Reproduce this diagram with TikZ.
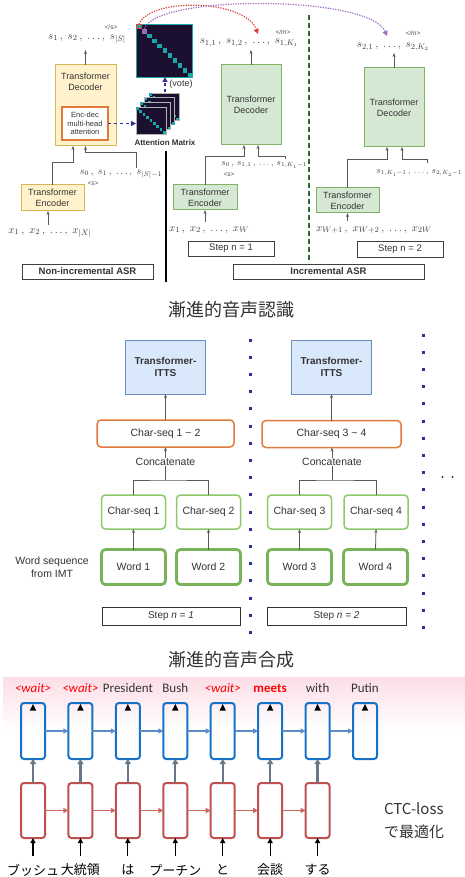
\documentclass[tikz,border=0pt]{standalone}
\usepackage{fontspec}
\setmainfont{Liberation Sans}
\newfontfamily\jp{Noto Sans CJK JP}
\newfontfamily\carl{Carlito}
\usetikzlibrary{arrows.meta,calc}
\definecolor{yelF}{HTML}{FFF2CC}
\definecolor{yelD}{HTML}{D6B656}
\definecolor{grnF}{HTML}{D5E8D4}
\definecolor{grnD}{HTML}{82B366}
\definecolor{bluF}{HTML}{DAE8FC}
\definecolor{bluD}{HTML}{6C8EBF}
\definecolor{orgD}{HTML}{E07B39}
\definecolor{navy}{HTML}{2E3192}
\definecolor{matF}{HTML}{1C1030}
\definecolor{tealq}{HTML}{19A7A7}
\definecolor{dgreen}{HTML}{2E6B2E}
\definecolor{rnnB}{HTML}{1473C8}
\definecolor{rnnR}{HTML}{C0504D}
\definecolor{hB}{HTML}{5B8BC8}
\definecolor{hR}{HTML}{CC6660}
\definecolor{vG}{HTML}{6A7786}
\definecolor{pinkT}{HTML}{FCDDE6}
\definecolor{purp}{HTML}{9B6BC0}
\definecolor{redD}{HTML}{D9433A}
\definecolor{wgrn}{HTML}{79B25A}
\definecolor{cgrn}{HTML}{8DC96A}
\definecolor{txt}{HTML}{333333}
\begin{document}
\begin{tikzpicture}[x=1pt,y=-1pt,
  >={Stealth[length=4pt,width=3pt]},
  every node/.style={outer sep=0pt},
  lbl/.style={font=\fontsize{9}{11}\selectfont, align=center, inner sep=0pt, text=txt},
  ml/.style={font=\fontsize{11}{13}\selectfont, inner sep=0pt, text=black!75},
  mls/.style={font=\fontsize{10}{12}\selectfont, inner sep=0pt, text=black!75},
  tinyl/.style={font=\fontsize{6.5}{7}\selectfont, inner sep=0pt, text=black!70},
  ybox/.style={draw=yelD, fill=yelF, line width=1pt, inner sep=0pt, align=center, font=\fontsize{9}{11}\selectfont, text=txt},
  gbox/.style={draw=grnD, fill=grnF, line width=1pt, inner sep=0pt, align=center, font=\fontsize{9}{11}\selectfont, text=txt},
  capbox/.style={draw=black!75, line width=0.8pt, inner sep=0pt, font=\fontsize{9.5}{11}\selectfont, text=txt},
  conn/.style={draw=black!65, line width=0.8pt},
  navyarr/.style={draw=navy, dashed, line width=1.2pt, -{Triangle[length=5pt,width=5pt]}},
  ittsbox/.style={draw=bluD, fill=bluF, line width=1pt, minimum width=80pt, minimum height=54pt, inner sep=0pt, font=\bfseries\fontsize{10}{12}\selectfont, align=center, text=txt},
  csbig/.style={draw=orgD, fill=white, rounded corners=4pt, line width=1.5pt, minimum height=27pt, inner sep=0pt, font=\fontsize{10.5}{12}\selectfont, text=txt},
  cssmall/.style={draw=cgrn, fill=white, rounded corners=4pt, line width=1.5pt, minimum width=64pt, minimum height=34pt, inner sep=0pt, font=\fontsize{10.5}{12}\selectfont, text=txt},
  wordbox/.style={draw=wgrn, fill=white, rounded corners=4pt, line width=2.8pt, minimum width=64pt, minimum height=35pt, inner sep=0pt, font=\fontsize{10.5}{12}\selectfont, text=txt},
  stepbox/.style={draw=black!80, line width=0.8pt, minimum width=138pt, minimum height=18pt, inner sep=0pt, font=\fontsize{10}{12}\selectfont, text=txt},
  plain/.style={font=\fontsize{10.5}{12}\selectfont, inner sep=0pt, text=txt},
  bcell/.style={draw=rnnB, line width=2pt, rounded corners=3pt, minimum width=24pt, minimum height=56pt, inner sep=0pt},
  rcell/.style={draw=rnnR, line width=2pt, rounded corners=3pt, minimum width=24pt, minimum height=55pt, inner sep=0pt},
  hb/.style={draw=hB, line width=1.5pt, -{Triangle[length=5pt,width=5pt]}},
  hr/.style={draw=hR, line width=1.5pt, -{Triangle[length=5pt,width=5pt]}},
  vup/.style={draw=vG, line width=2.4pt, -{Triangle[length=5pt,width=6pt]}},
  inarr/.style={draw=black, line width=1.2pt, -{Triangle[length=5pt,width=5pt]}},
  outw/.style={font=\carl\fontsize{13}{15}\selectfont, inner sep=0pt, text=txt},
  waitw/.style={font=\carl\itshape\fontsize{13}{15}\selectfont, inner sep=0pt, text=red},
  jpin/.style={font=\jp\fontsize{13}{15}\selectfont, inner sep=0pt, text=black},
  title/.style={font=\jp\fontsize{18}{20}\selectfont, inner sep=0pt, text=txt}
]
\fill[white] (0,0) rectangle (465,877);
\useasboundingbox (0,0) rectangle (465,877);

%%%%%%%%%%%%%%%% Section 1 : ASR %%%%%%%%%%%%%%%%
% non-incremental
\node[ybox, minimum width=61pt, minimum height=81pt] (decL) at (85.5,105.5) {};
\node[lbl] (decLt) at (85.5,82) {Transformer\\Decoder};
\node[draw=orgD, fill=white, line width=1.2pt, minimum width=46pt, minimum height=33pt, inner sep=0pt, align=center, font=\fontsize{7.5}{8.5}\selectfont, text=txt] (encdec) at (85,123.5) {Enc-dec\\multi-head\\attention};
\node[ybox, minimum width=63pt, minimum height=26pt] (encL) at (52.5,198) {Transformer\\Encoder};
\node[ml] (outL) at (87,39) {$s_1\,,\; s_2\,,\; \ldots,\; s_{|S|}$};
\node[tinyl] (eosL) at (111,27) {</s>};
\node[ml] (inL) at (50,233) {$x_1\,,\; x_2\,,\; \ldots,\; x_{|X|}$};
\node[mls] (sL) at (121,174) {$s_0\,,\; s_1\,,\; \ldots,\; s_{|S|-1}$};
\node[tinyl] (bosL) at (93,184) {<s>};
\coordinate (decLtop) at (85.5,50);
\draw[conn,->] (decL.north) -- (decLtop);
\coordinate (inLa) at (48,225);
\draw[conn,->] (inLa) -- (inLa |- encL.south);
\draw[conn,->] (encL.north) -- ++(0,-23) -| ([xshift=-12.5pt]decL.south);
\coordinate (sLtick) at (136,168);
\draw[conn,->] (sLtick) -- (136,152) -| (decL.south);
\node[capbox, minimum width=131pt, minimum height=15pt, font=\bfseries\fontsize{9.5}{11}\selectfont] (nonInc) at (87.5,271.5) {Non-incremental ASR};

% attention matrices
\node[draw=tealq, fill=matF, line width=0.9pt, minimum width=56pt, minimum height=53pt, inner sep=0pt] (att) at (164,50.5) {};
\foreach \i in {2,...,10} {
  \fill[tealq] ($(137,24)+(\i*5.1,\i*4.9)$) rectangle ++(4.5,4.5);
}
\node[draw=redD, fill=tealq, line width=0.9pt, minimum width=4.5pt, minimum height=4.5pt, inner sep=0pt] (redsq) at (139,26.5) {};
\node[draw=purp, fill=purp!60!gray, line width=0.9pt, minimum width=4.5pt, minimum height=4.5pt, inner sep=0pt] (purpsq) at (144.3,31.3) {};
\foreach \k in {3,2,1} {
  \pgfmathsetmacro\xo{136+4.4*\k}
  \pgfmathsetmacro\yo{107-4.6*\k}
  \draw[draw=black!30, fill=matF, line width=0.8pt] (\xo,\yo) rectangle ++(30,27);
  \foreach \j in {0,...,8} {
    \fill[tealq] ($(\xo,\yo)+(\j*3.4,\j*3.05)$) rectangle ++(2.6,2.6);
  }
}
\node[draw=black!30, fill=matF, line width=0.8pt, minimum width=30pt, minimum height=27pt, inner sep=0pt] (stk) at (151,120.5) {};
\foreach \j in {0,...,8} {
  \fill[tealq] ($(136,107)+(\j*3.4,\j*3.05)$) rectangle ++(2.6,2.6);
}
\node[font=\bfseries\fontsize{8}{9}\selectfont, inner sep=0pt, text=txt] (attlbl) at (165,143) {Attention Matrix};
\draw[navyarr] (encdec.east) -- (encdec.east -| stk.west);
\coordinate (votefrom) at (165,92);
\draw[navyarr] (votefrom) -- (votefrom |- att.south);
\node[font=\fontsize{9}{10}\selectfont, inner sep=0pt, text=txt] (vote) at (181,84) {(vote)};

% separators
\coordinate (sepA) at (166,151);
\coordinate (sepB) at (166,282);
\draw[black, line width=2pt] (sepA) -- (sepB);
\coordinate (gsepA) at (309,15);
\coordinate (gsepB) at (309,263);
\draw[dgreen, line width=2pt, dash pattern=on 5pt off 3pt] (gsepA) -- (gsepB);

% incremental step 1
\node[gbox, minimum width=60pt, minimum height=80pt] (dec1) at (251,105) {Transformer\\Decoder};
\node[ml] (out1) at (249,43) {$s_{1,1}\,,\; s_{1,2}\,,\; \ldots,\; s_{1,K_1}$};
\node[tinyl, font=\itshape\fontsize{6.5}{7}\selectfont] (eom1) at (283,32) {</m>};
\node[gbox, minimum width=64pt, minimum height=25pt] (enc1) at (205,197.5) {Transformer\\Encoder};
\node[ml] (in1) at (209,230) {$x_1\,,\; x_2\,,\; \ldots,\; x_W$};
\node[mls, font=\fontsize{9}{11}\selectfont, anchor=east] (s1) at (307,165) {$s_0\,,\, s_{1,1}\,,\, \ldots,\, s_{1,K_1-1}$};
\node[tinyl] (bos1) at (229,175) {<s>};
\coordinate (dec1top) at (251,50);
\draw[conn,->] (dec1.north) -- (dec1top);
\coordinate (in1a) at (205,222);
\draw[conn,->] (in1a) -- (in1a |- enc1.south);
\draw[conn,->] (enc1.north) -- (205,156) -| ([xshift=-7pt]dec1.south);
\coordinate (s1tick) at (285,159);
\draw[conn,->] (s1tick) -- (285,156) -| ([xshift=7pt]dec1.south);
\node[capbox, minimum width=86pt, minimum height=15pt] (step1) at (231,248.5) {Step n = 1};

% incremental step 2
\node[gbox, minimum width=60pt, minimum height=79pt] (dec2) at (394,107.5) {Transformer\\Decoder};
\node[ml] (out2) at (393,47) {$s_{2,1}\,,\; \ldots,\; s_{2,K_2}$};
\node[tinyl, font=\itshape\fontsize{6.5}{7}\selectfont] (eom2) at (413,33) {</m>};
\node[gbox, minimum width=63pt, minimum height=25pt] (enc2) at (347.5,200.5) {Transformer\\Encoder};
\node[ml] (in2) at (374,230) {$x_{W+1}\,,\; x_{W+2}\,,\; \ldots,\; x_{2W}$};
\node[mls, font=\fontsize{9}{11}\selectfont, anchor=east] (s2) at (462,173) {$s_{1,K_1-1}\,,\, \ldots,\, s_{2,K_2-1}$};
\coordinate (dec2top) at (394,53);
\draw[conn,->] (dec2.north) -- (dec2top);
\coordinate (in2a) at (347.5,221);
\draw[conn,->] (in2a) -- (in2a |- enc2.south);
\draw[conn,->] (enc2.north) -- (347.5,159) -| ([xshift=-7pt]dec2.south);
\coordinate (s2tick) at (427,163);
\draw[conn,->] (s2tick) -- (427,159) -| ([xshift=8pt]dec2.south);
\node[capbox, minimum width=86pt, minimum height=16pt] (step2) at (400,249) {Step n = 2};
\node[capbox, minimum width=191pt, minimum height=15pt, font=\bfseries\fontsize{9.5}{11}\selectfont] (incr) at (328.5,271.5) {Incremental ASR};

% voting arrows
\draw[redD, line width=1.2pt, dash pattern=on 1.2pt off 1.3pt, -{Triangle[length=5pt,width=5pt]}] (redsq.north) .. controls (150,-3) and (245,-1) .. (258,34);
\draw[purp, line width=1.2pt, dash pattern=on 1.2pt off 1.3pt, -{Triangle[length=5pt,width=5pt]}] (purpsq.north) .. controls (155,-6) and (370,-5) .. (387,36);

\node[title] (t1) at (231,310) {漸進的音声認識};

%%%%%%%%%%%%%%%% Section 2 : ITTS %%%%%%%%%%%%%%%%
\node[ittsbox] (itts1) at (165.5,367) {Transformer-\\ITTS};
\node[ittsbox] (itts2) at (331.5,367) {Transformer-\\ITTS};
\node[csbig, minimum width=137pt] (cs12) at (165.5,433.5) {Char-seq 1 \textasciitilde{} 2};
\node[csbig, minimum width=139pt] (cs34) at (331.5,434) {Char-seq 3 \textasciitilde{} 4};
\draw[conn,->] (cs12.north) -- (itts1.south);
\draw[conn,->] (cs34.north) -- (itts2.south);
\node[plain] (cc1) at (165.5,462) {Concatenate};
\node[plain] (cc2) at (332,462) {Concatenate};
\draw[conn,->] (cc1.north) -- (cc1.north |- cs12.south);
\draw[conn,->] (cc2.north) -- (cc2.north |- cs34.south);
\node[cssmall] (cs1) at (133.5,512) {Char-seq 1};
\node[cssmall] (cs2) at (208.5,512) {Char-seq 2};
\node[cssmall] (cs3) at (299.5,512) {Char-seq 3};
\node[cssmall] (cs4) at (376,512) {Char-seq 4};
\draw[conn] (cs1.north) |- (cc1.south |- 0,480) -| (cs2.north);
\draw[conn] (cc1.south) -- (cc1.south |- 0,480);
\draw[conn] (cs3.north) |- (cc2.south |- 0,480) -| (cs4.north);
\draw[conn] (cc2.south) -- (cc2.south |- 0,480);
\node[wordbox] (w1) at (133.5,567) {Word 1};
\node[wordbox] (w2) at (208.5,567) {Word 2};
\node[wordbox] (w3) at (299.5,567) {Word 3};
\node[wordbox] (w4) at (375.5,567) {Word 4};
\draw[conn,->] (w1.north) -- (cs1.south);
\draw[conn,->] (w2.north) -- (cs2.south);
\draw[conn,->] (w3.north) -- (cs3.south);
\draw[conn,->] (w4.north) -- (cs4.south);
\node[plain, align=center, font=\fontsize{10.5}{12.5}\selectfont] (wseq) at (52,567) {Word sequence\\from IMT};
\node[stepbox] (st1) at (171,616) {Step \textit{n = 1}};
\node[stepbox, minimum width=139pt] (st2) at (336.5,616) {Step \textit{n = 2}};
\coordinate (dl1a) at (250,338.5);
\coordinate (dl1b) at (250,636);
\draw[navy, line width=3pt, dash pattern=on 3pt off 14.2pt] (dl1a) -- (dl1b);
\coordinate (dl2a) at (423,333.5);
\coordinate (dl2b) at (423,631);
\draw[navy, line width=3pt, dash pattern=on 3pt off 14.2pt] (dl2a) -- (dl2b);
\fill[black!80] (442.5,477) circle (1.1pt) (452.5,477) circle (1.1pt);

\node[title] (t2) at (231,660) {漸進的音声合成};

%%%%%%%%%%%%%%%% Section 3 : RNN %%%%%%%%%%%%%%%%
\shade[top color=pinkT, bottom color=white] (3,677) rectangle (465,730);
\foreach \i in {0,...,7} {
  \pgfmathsetmacro\cx{33+47.43*\i}
  \node[bcell] (b\i) at (\cx,731) {};
  \fill[black] ([xshift=-3.2pt,yshift=-7.5pt]b\i.north) -- ([xshift=3.2pt,yshift=-7.5pt]b\i.north) -- ([yshift=-1pt]b\i.north) -- cycle;
}
\foreach \i in {0,...,6} {
  \pgfmathsetmacro\cx{33+47.43*\i}
  \node[rcell] (r\i) at (\cx,810.5) {};
  \draw[vup] (r\i.north) -- (b\i.south);
  \coordinate (in\i) at (\cx,856);
  \draw[inarr] (in\i) -- (r\i.south);
}
\foreach \i [count=\j] in {0,...,6} {
  \draw[hb] (b\i.east) -- (b\j.west);
}
\foreach \i [count=\j] in {0,...,5} {
  \draw[hr] (r\i.east) -- (r\j.west);
}
\node[waitw] (o0) at (33,688) {<wait>};
\node[waitw] (o1) at (80.4,688) {<wait>};
\node[outw] (o2) at (127.9,688) {President};
\node[outw] (o3) at (175.3,688) {Bush};
\node[waitw] (o4) at (222.7,688) {<wait>};
\node[outw, text=red, font=\carl\bfseries\fontsize{13}{15}\selectfont] (o5) at (270.1,688) {meets};
\node[outw] (o6) at (317.6,688) {with};
\node[outw] (o7) at (365,688) {Putin};
\node[jpin] (j0) at (33,870) {ブッシュ};
\node[jpin] (j1) at (80.4,870) {大統領};
\node[jpin] (j2) at (127.9,870) {は};
\node[jpin] (j3) at (175.3,870) {プーチン};
\node[jpin] (j4) at (222.7,870) {と};
\node[jpin] (j5) at (270.1,870) {会談};
\node[jpin] (j6) at (317.6,870) {する};
\node[anchor=west, align=left, inner sep=0pt, font=\jp\fontsize{15}{23}\selectfont, text=txt] (ctc) at (384,821) {CTC-loss\\で最適化};
\end{tikzpicture}
\end{document}
